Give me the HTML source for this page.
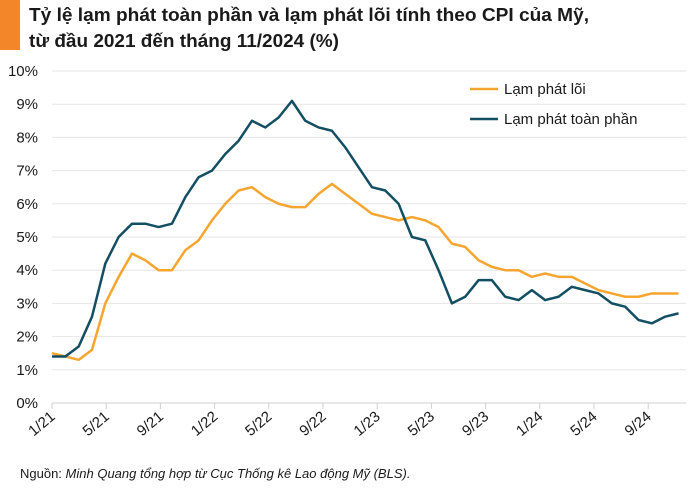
<!DOCTYPE html>
<html><head><meta charset="utf-8"><style>
body{margin:0;background:#fff;font-family:"Liberation Sans",sans-serif;}
#wrap{position:relative;width:700px;height:490px;overflow:hidden;}
</style></head><body>
<div id="wrap">
<svg id="c" width="700" height="490" xmlns="http://www.w3.org/2000/svg">
<rect x="0" y="0" width="20" height="50" fill="#F4862A"/>
<text x="29" y="21" font-size="18.5" font-weight="bold" fill="#1a1a1a" textLength="560" lengthAdjust="spacingAndGlyphs">Tỷ lệ lạm phát toàn phần và lạm phát lõi tính theo CPI của Mỹ,</text>
<text x="29" y="47" font-size="18.5" font-weight="bold" fill="#1a1a1a" textLength="310" lengthAdjust="spacingAndGlyphs">từ đầu 2021 đến tháng 11/2024 (%)</text>
<g id="grid"></g><g id="xt"></g><g id="lines"></g>
<g>
<line x1="470" y1="89" x2="498" y2="89" stroke="#F5A530" stroke-width="2.5"/>
<text x="504" y="94" font-size="15" fill="#1a1a1a">Lạm phát lõi</text>
<line x1="470" y1="119" x2="498" y2="119" stroke="#134E63" stroke-width="2.5"/>
<text x="504" y="124" font-size="15" fill="#1a1a1a">Lạm phát toàn phần</text>
</g>
<text x="20" y="478" font-size="13" fill="#1a1a1a">Nguồn: <tspan font-style="italic">Minh Quang tổng hợp từ Cục Thống kê Lao động Mỹ (BLS).</tspan></text>
</svg>
</div>
<script>
const yTicks=[0,1,2,3,4,5,6,7,8,9,10];
const xLabels=["1/21","5/21","9/21","1/22","5/22","9/22","1/23","5/23","9/23","1/24","5/24","9/24"];
const headline=[1.4,1.4,1.7,2.6,4.2,5.0,5.4,5.4,5.3,5.4,6.2,6.8,7.0,7.5,7.9,8.5,8.3,8.6,9.1,8.5,8.3,8.2,7.7,7.1,6.5,6.4,6.0,5.0,4.9,4.0,3.0,3.2,3.7,3.7,3.2,3.1,3.4,3.1,3.2,3.5,3.4,3.3,3.0,2.9,2.5,2.4,2.6,2.7];
const core=[1.5,1.4,1.3,1.6,3.0,3.8,4.5,4.3,4.0,4.0,4.6,4.9,5.5,6.0,6.4,6.5,6.2,6.0,5.9,5.9,6.3,6.6,6.3,6.0,5.7,5.6,5.5,5.6,5.5,5.3,4.8,4.7,4.3,4.1,4.0,4.0,3.8,3.9,3.8,3.8,3.6,3.4,3.3,3.2,3.2,3.3,3.3,3.3];
</script>
<script>
const NS="http://www.w3.org/2000/svg";
const x=i=>52+i*13.33, y=v=>403-v*33.2;
const grid=document.getElementById('grid');
yTicks.forEach(t=>{
 const l=document.createElementNS(NS,'line');
 l.setAttribute('x1',52);l.setAttribute('x2',686);l.setAttribute('y1',y(t));l.setAttribute('y2',y(t));
 l.setAttribute('stroke',t===0?'#d0d0d0':'#e6e6e6');l.setAttribute('stroke-width','1');
 
 
 grid.appendChild(l);
 const tx=document.createElementNS(NS,'text');
 tx.setAttribute('x',38);tx.setAttribute('y',y(t)+5);tx.setAttribute('text-anchor','end');tx.setAttribute('font-size','15');tx.setAttribute('fill','#1a1a1a');
 tx.textContent=t+'%';
 
 
 grid.appendChild(tx);
});
const xt=document.getElementById('xt');
xLabels.forEach((lab,k)=>{
 const xx=52+k*54.2;
 const tk=document.createElementNS(NS,'line');
 tk.setAttribute('x1',xx);tk.setAttribute('x2',xx);tk.setAttribute('y1',403);tk.setAttribute('y2',409);tk.setAttribute('stroke','#d0d0d0');
 
 
 xt.appendChild(tk);
 const tx=document.createElementNS(NS,'text');
 tx.setAttribute('transform',`translate(${xx+4},${418}) rotate(-40)`);
 tx.setAttribute('text-anchor','end');tx.setAttribute('font-size','15');tx.setAttribute('fill','#1a1a1a');
 tx.textContent=lab;
 
 
 xt.appendChild(tx);
});
const lines=document.getElementById('lines');
function draw(arr,col,name){
 const p=document.createElementNS(NS,'polyline');
 p.setAttribute('points',arr.map((v,i)=>x(i)+','+y(v)).join(' '));
 p.setAttribute('fill','none');p.setAttribute('stroke',col);p.setAttribute('stroke-width','2.5');p.setAttribute('stroke-linejoin','round');
 
 
 lines.appendChild(p);
}
draw(core,'#F5A530','core-inflation-line');
draw(headline,'#134E63','headline-inflation-line');
</script>
</body></html>
